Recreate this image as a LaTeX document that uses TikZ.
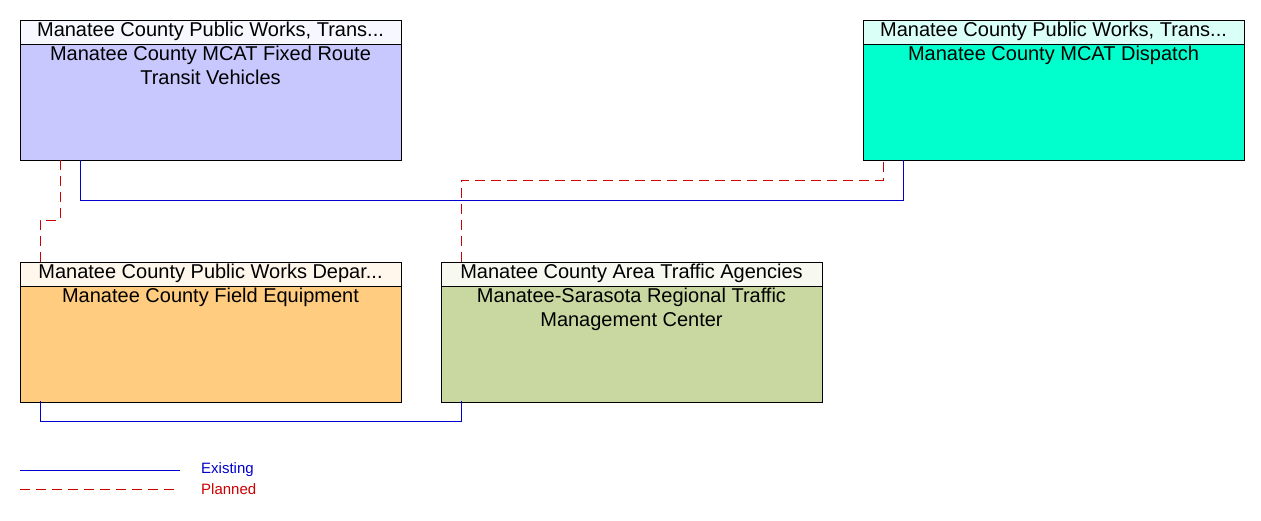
\documentclass[tikz,border=0pt]{standalone}
\usepackage{fontspec}
\setmainfont{Liberation Sans}
\begin{document}
\begin{tikzpicture}[x=1pt,y=-1pt,
  box/.style={draw=black,line width=0.6pt},
  hd/.style={anchor=north,inner sep=0pt,font=\fontsize{20}{24}\selectfont},
  ttl/.style={anchor=north,inner sep=0pt,align=center,font=\fontsize{20}{24}\selectfont},
  ex/.style={draw=blue!80!black,line width=0.6pt},
  pl/.style={draw=red!80!black,line width=0.6pt,dash pattern=on 10pt off 6pt}]
\useasboundingbox (0,0) rectangle (1261,520);
\definecolor{ca}{HTML}{C8C8FF}\definecolor{cb}{HTML}{00FFCC}
\definecolor{cc}{HTML}{FFCC80}\definecolor{cd}{HTML}{C8D8A0}
% boxes
\foreach \n/\x/\y/\c in {A/20/20/ca,B/863/20/cb,C/20/262/cc,D/441/262/cd}{
  \fill[\c] (\x,\y) rectangle ++(381,140);
  \fill[\c!15!white] (\x,\y) rectangle ++(381,24);
  \draw[box] (\x,\y) rectangle ++(381,140);
  \draw[box] (\x,\y+24) -- ++(381,0);
  \coordinate (\n) at (\x,\y);
}
\node[hd] (Ah) at (210.5,22) {Manatee County Public Works, Trans...};
\node[ttl] (At) at (210.5,46) {Manatee County MCAT Fixed Route\\Transit Vehicles};
\node[hd] (Bh) at (1053.5,22) {Manatee County Public Works, Trans...};
\node[ttl] (Bt) at (1053.5,46) {Manatee County MCAT Dispatch};
\node[hd] (Ch) at (210.5,264) {Manatee County Public Works Depar...};
\node[ttl] (Ct) at (210.5,288) {Manatee County Field Equipment};
\node[hd] (Dh) at (631.5,264) {Manatee County Area Traffic Agencies};
\node[ttl] (Dt) at (631.5,288) {Manatee-Sarasota Regional Traffic\\Management Center};
% connectors
\coordinate (a1) at (80,160); \coordinate (b1) at (903,160);
\draw[ex] (a1) -- (80,200) -- (903,200) -- (b1);
\coordinate (a2) at (60,160); \coordinate (c2) at (40,262);
\draw[pl] (a2) -- (60,220) -- (40,220) -- (c2);
\coordinate (d3) at (461,262); \coordinate (b3) at (883,160);
\draw[pl] (d3) -- (461,180) -- (883,180) -- (b3);
\coordinate (c4) at (40,401); \coordinate (d4) at (461,401);
\draw[ex] (c4) -- (40,421) -- (461,421) -- (d4);
% legend
\coordinate (l1) at (20,470); \coordinate (l2) at (180,470);
\draw[ex] (l1) -- (l2);
\node[anchor=west,inner sep=0pt,text=blue!80!black,font=\fontsize{15}{18}\selectfont] (le) at (201,470) {Existing};
\coordinate (l3) at (20,489); \coordinate (l4) at (180,489);
\draw[pl] (l3) -- (l4);
\node[anchor=west,inner sep=0pt,text=red!80!black,font=\fontsize{15}{18}\selectfont] (lp) at (201,489) {Planned};
\end{tikzpicture}
\end{document}
